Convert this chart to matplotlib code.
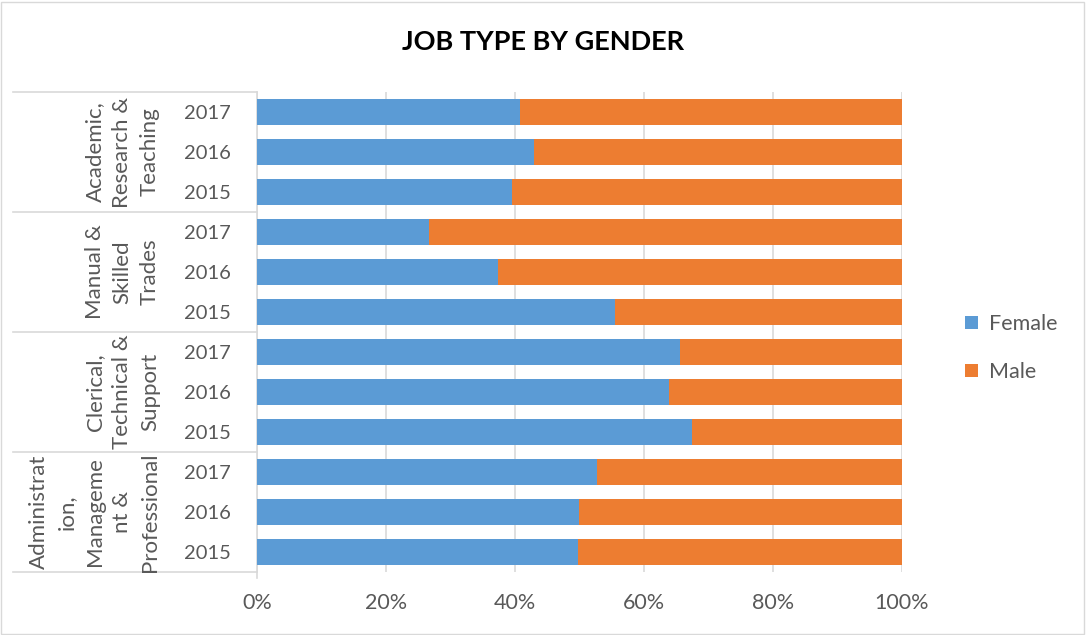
import matplotlib.pyplot as plt
import numpy as np
from matplotlib.patches import Rectangle

plt.rcParams['font.family'] = ['Lato', 'DejaVu Sans']

# job groups, top to bottom, each with its years
groups = ["Academic,\nResearch &\nTeaching",
          "Manual &\nSkilled\nTrades",
          "Clerical,\nTechnical &\nSupport",
          "Administrat\nion,\nManageme\nnt &\nProfessional"]
years = ["2017", "2016", "2015"]

# share of female staff (%) per group, 2017/2016/2015
female = [
    [40.8, 42.9, 39.5],
    [26.7, 37.4, 55.5],
    [65.6, 63.8, 67.4],
    [52.7, 49.9, 49.7],
]
male = [[100 - v for v in row] for row in female]

BLUE = '#5B9BD5'
ORANGE = '#ED7D31'
GRID = '#D9D9D9'
TXT = '#595959'

W, H = 1086, 635
fig = plt.figure(figsize=(W / 100, H / 100), dpi=100)
fig.patch.set_facecolor('white')
fig.patches.append(Rectangle((1 / W, 1 / H), 1 - 3 / W, 1 - 3 / H, transform=fig.transFigure,
                             fill=False, edgecolor='#D9D9D9', lw=1))

x0, x1, ytop, ybot = 257, 902, 92, 572
ax = fig.add_axes([x0 / W, 1 - ybot / H, (x1 - x0) / W, (ybot - ytop) / H])

n = len(groups) * len(years)
fem_flat = [v for row in female for v in row]
mal_flat = [v for row in male for v in row]
ypos = np.arange(n)[::-1]  # first bar at the top

ax.barh(ypos, fem_flat, height=0.65, color=BLUE, label='Female', zorder=3)
ax.barh(ypos, mal_flat, left=fem_flat, height=0.65, color=ORANGE, label='Male', zorder=3)

ax.set_xlim(0, 100)
ax.set_ylim(-0.5, n - 0.5)
ax.set_xticks(np.arange(0, 101, 20))
ax.set_xticklabels([f"{t}%" for t in range(0, 101, 20)])
ax.xaxis.grid(True, color=GRID, lw=1.2, zorder=0)
ax.tick_params(axis='x', length=0, labelsize=15.5, labelcolor=TXT, pad=15)
ax.tick_params(axis='y', length=0, labelsize=14.5, labelcolor=TXT, pad=19)
ax.set_yticks(ypos)
ax.set_yticklabels(years * len(groups))
for s in ['top', 'right', 'bottom']:
    ax.spines[s].set_visible(False)
ax.spines['left'].set_color(GRID)
ax.spines['left'].set_linewidth(1.2)

# group separators and labels to the left of the year labels
trans = ax.get_yaxis_transform()
xl = (13 - x0) / (x1 - x0)
for i in range(len(groups) + 1):
    yb = n - 0.5 - i * len(years)
    ax.plot([xl, 0], [yb, yb], color=GRID, lw=1.2, transform=trans, clip_on=False)
ax.plot([0, 0], [-0.5, -0.65], color=GRID, lw=1.2, transform=trans, clip_on=False)
xg = (160 - x0) / (x1 - x0)
for i, g in enumerate(groups):
    yc = n - 1 - i * len(years) - 1
    ax.text(xg, yc, g, rotation=90, ha='right', va='center', multialignment='center',
            fontsize=16, color=TXT, linespacing=1.48, transform=trans)

fig.text(0.5, 1 - 42 / H, "JOB TYPE BY GENDER", ha='center', va='center',
         fontsize=19.5, fontweight='bold', color='#000000')

fig.legend(loc='center left', bbox_to_anchor=(946 / W, 1 - 348 / H), frameon=False,
           fontsize=15.5, labelcolor=TXT, handlelength=0.6, handleheight=0.6,
           handletextpad=0.5, labelspacing=1.3)

fig.savefig('out.png', dpi=100)
